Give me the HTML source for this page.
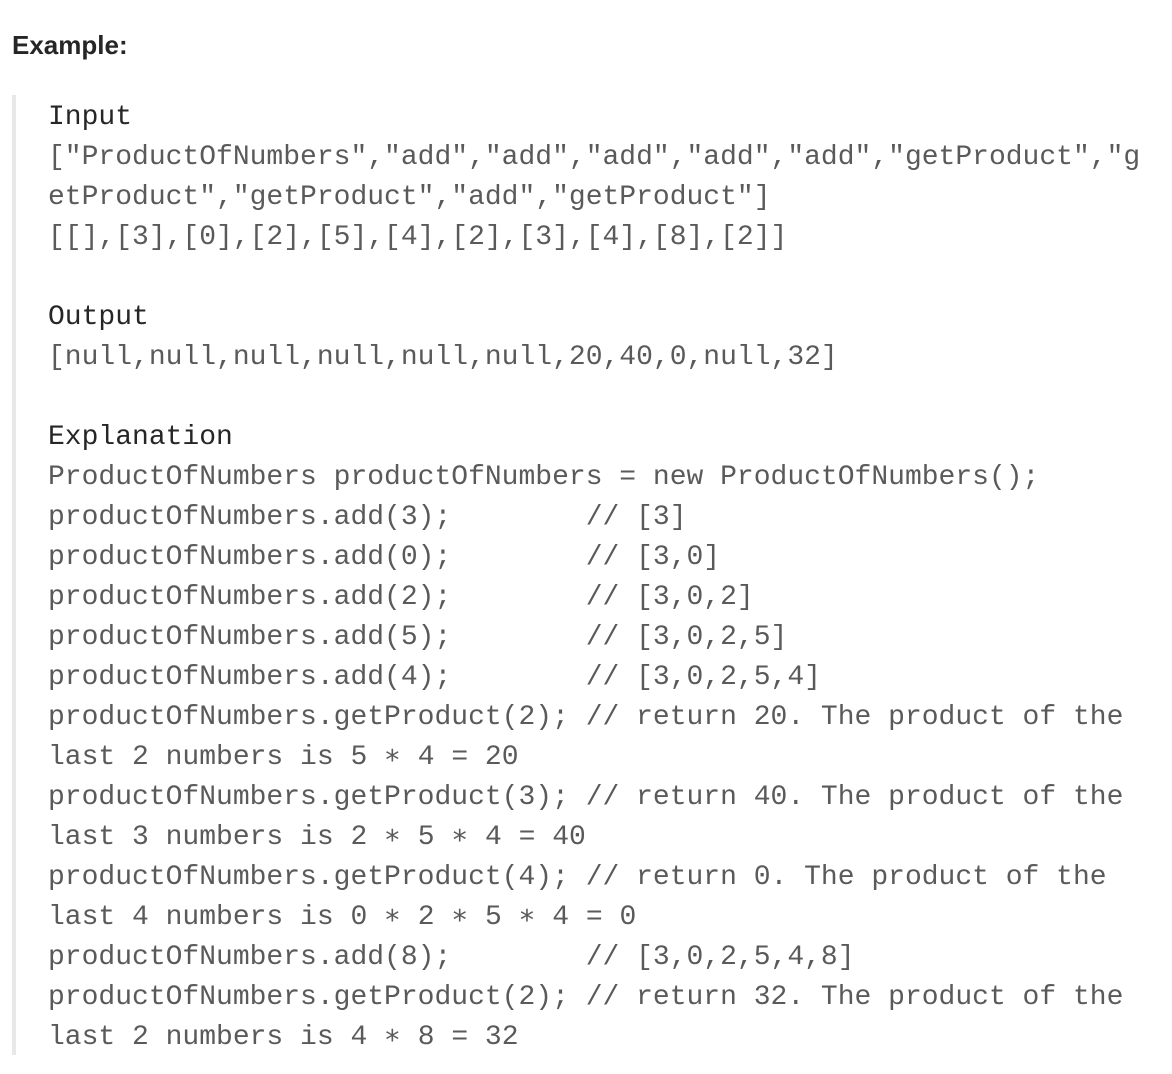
<!DOCTYPE html>
<html><head><meta charset="utf-8"><style>
body{margin:0;background:#fff;width:1172px;height:1074px;position:relative;overflow:hidden}
h{position:absolute;left:12px;top:30px;font:bold 26px "Liberation Sans",sans-serif;color:#262626}
.bar{position:absolute;left:12px;top:95px;width:4px;height:960px;background:#e8e8e8}
pre{position:absolute;left:48px;top:98px;margin:0;font:28px/40px "Liberation Mono",monospace;color:#5a5a5a}
b{font-weight:normal;color:#262626}
</style></head><body>
<h>Example:</h>
<div class="bar"></div>
<pre><b>Input</b>
["ProductOfNumbers","add","add","add","add","add","getProduct","g
etProduct","getProduct","add","getProduct"]
[[],[3],[0],[2],[5],[4],[2],[3],[4],[8],[2]]

<b>Output</b>
[null,null,null,null,null,null,20,40,0,null,32]

<b>Explanation</b>
ProductOfNumbers productOfNumbers = new ProductOfNumbers();
productOfNumbers.add(3);        // [3]
productOfNumbers.add(0);        // [3,0]
productOfNumbers.add(2);        // [3,0,2]
productOfNumbers.add(5);        // [3,0,2,5]
productOfNumbers.add(4);        // [3,0,2,5,4]
productOfNumbers.getProduct(2); // return 20. The product of the
last 2 numbers is 5 ∗ 4 = 20
productOfNumbers.getProduct(3); // return 40. The product of the
last 3 numbers is 2 ∗ 5 ∗ 4 = 40
productOfNumbers.getProduct(4); // return 0. The product of the
last 4 numbers is 0 ∗ 2 ∗ 5 ∗ 4 = 0
productOfNumbers.add(8);        // [3,0,2,5,4,8]
productOfNumbers.getProduct(2); // return 32. The product of the
last 2 numbers is 4 ∗ 8 = 32</pre>
</body></html>
